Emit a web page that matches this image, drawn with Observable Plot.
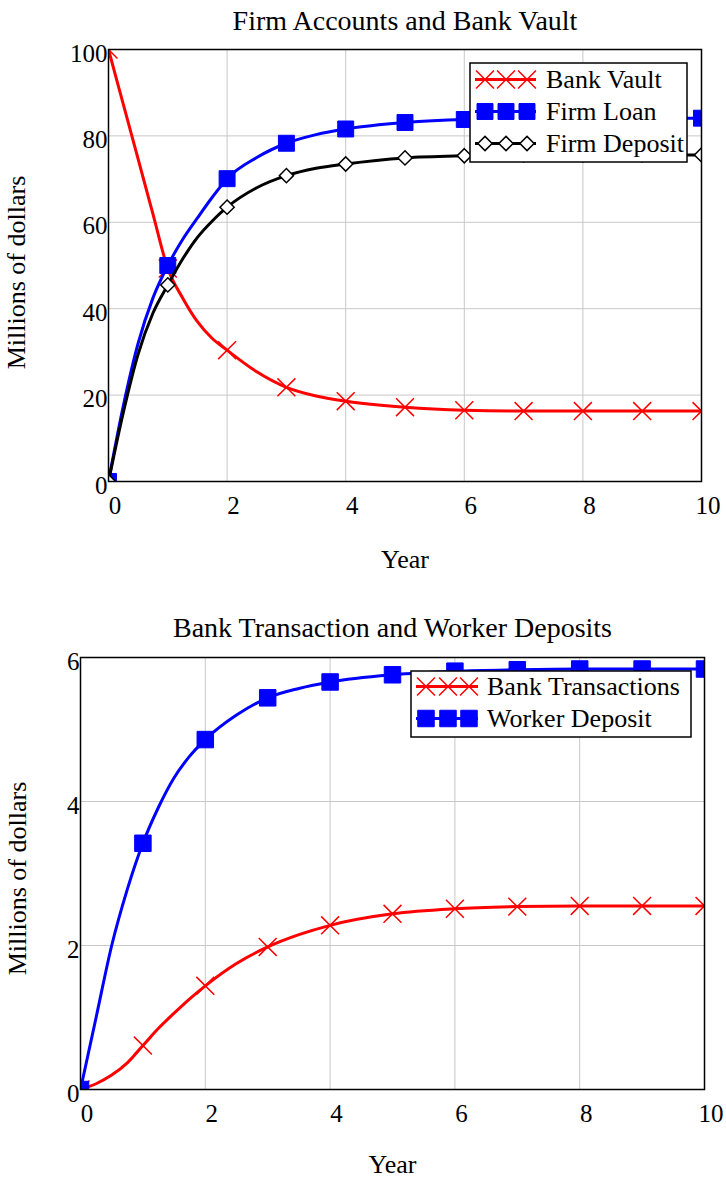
<!DOCTYPE html>
<html><head><meta charset="utf-8">
<script src="https://cdn.jsdelivr.net/npm/d3@7"></script>
<script src="https://cdn.jsdelivr.net/npm/@observablehq/plot@0.6"></script>
<style>
body{margin:0;background:#fff;}
svg{display:block;}
</style>
</head><body><div id="c"></div>
<script>
// ---- data ----
const years = [0,0.25,0.5,0.75,1,1.25,1.5,1.75,2,2.5,3,3.5,4,5,6,7,8,9,10];
const bankVault        = [100,87.3,74.6,61.9,49.3,42.5,37.0,33.1,30.4,25.4,21.8,19.8,18.6,17.2,16.5,16.3,16.3,16.3,16.3];
const firmLoan         = [0,17.5,32.0,42.5,50.0,56.0,61.0,65.8,70.1,75.0,78.3,80.3,81.6,83.1,83.8,84.0,84.1,84.1,84.1];
const firmDeposit      = [0,16.0,29.5,39.0,45.5,51.5,56.5,60.3,63.5,68.0,70.8,72.5,73.5,74.9,75.4,75.6,75.6,75.6,75.6];
const bankTransactions = [0,0.08,0.20,0.37,0.61,0.85,1.06,1.26,1.44,1.75,1.98,2.15,2.28,2.44,2.51,2.54,2.55,2.55,2.55];
const workerDeposit    = [0,1.00,2.00,2.78,3.42,3.92,4.33,4.63,4.86,5.20,5.44,5.57,5.66,5.76,5.81,5.83,5.84,5.84,5.84];

const xTicks = [0,2,4,6,8,10];
const yTicksTop = [0,20,40,60,80,100];
const yTicksBottom = [0,2,4,6];
const topSeries = ["Bank Vault","Firm Loan","Firm Deposit"];
const bottomSeries = ["Bank Transactions","Worker Deposit"];
const topTitle = "Firm Accounts and Bank Vault";
const bottomTitle = "Bank Transaction and Worker Deposits";
const xLabel = "Year";
const yLabel = "Millions of dollars";

// ---- styles ----
const FONT = "Liberation Serif, Times New Roman, serif";
const styles = {
  "Bank Vault":        {color:"#ff0000", symbol:"times",    d3sym:d3.symbolTimes,    r:8.2, fill:"none",    sw:1.5},
  "Firm Loan":         {color:"#0000ff", symbol:"square",   d3sym:d3.symbolSquare,   r:9.0, fill:"#0000ff", sw:1},
  "Firm Deposit":      {color:"#000000", symbol:"diamond2", d3sym:d3.symbolDiamond2, r:6.4, fill:"#ffffff", sw:1.5},
  "Bank Transactions": {color:"#ff0000", symbol:"times",    d3sym:d3.symbolTimes,    r:8.2, fill:"none",    sw:1.5},
  "Worker Deposit":    {color:"#0000ff", symbol:"square",   d3sym:d3.symbolSquare,   r:9.3, fill:"#0000ff", sw:1}
};

function rowsOf(name, vals){ return years.map((y,i)=>({year:y, value:vals[i], series:name})); }

function seriesMarks(name, vals){
  const s = styles[name];
  const rows = rowsOf(name, vals);
  return [
    Plot.line(rows, {x:"year", y:"value", stroke:s.color, strokeWidth:3, curve:"monotone-x", clip:true}),
    Plot.dot(rows.filter(d=>Number.isInteger(d.year)), {x:"year", y:"value", symbol:()=>s.symbol, r:s.r,
      fill:s.fill, stroke:s.color, strokeWidth:s.sw, clip:true})
  ];
}

function drawLegend(svg, names, box){
  const g = d3.select(svg).append("g");
  g.append("rect").attr("x",box.x).attr("y",box.y).attr("width",box.w).attr("height",box.h)
    .attr("fill","#fff").attr("stroke","#000").attr("stroke-width",1.5);
  names.forEach((n,i)=>{
    const s = styles[n];
    const cy = box.row0 + i*box.step;
    g.append("line").attr("x1",box.sx0).attr("x2",box.sx1).attr("y1",cy).attr("y2",cy)
      .attr("stroke",s.color).attr("stroke-width",3);
    box.mx.forEach(mx=>{
      g.append("path").attr("transform",`translate(${mx},${cy})`)
        .attr("d", d3.symbol(s.d3sym, Math.PI*s.r*s.r)())
        .attr("fill", s.fill).attr("stroke", s.color).attr("stroke-width", s.sw);
    });
    g.append("text").attr("x",box.tx).attr("y",cy+8.5).text(n)
      .attr("text-anchor","start")
      .attr("font-family",FONT).attr("font-size",26).attr("fill","#000");
  });
}

function makeChart(cfg){
  const svg = Plot.plot({
    width:726, height:cfg.height,
    marginTop:cfg.mt, marginBottom:cfg.mb, marginLeft:cfg.ml, marginRight:cfg.mr,
    style:{fontFamily:FONT, fontSize:"25px", background:"#fff", color:"#000"},
    x:{domain:[0,10]},
    y:{domain:cfg.ydomain},
    marks:[
      Plot.gridX(xTicks.slice(1,-1), {stroke:"#c8c8c8", strokeOpacity:1, strokeWidth:1}),
      Plot.gridY(cfg.yticks.slice(1,-1), {stroke:"#c8c8c8", strokeOpacity:1, strokeWidth:1}),
      ...cfg.series.flatMap(([n,v])=>seriesMarks(n,v)),
      Plot.frame({stroke:"#000", strokeWidth:1.5}),
      Plot.axisX(xTicks, {tickSize:0, tickPadding:15, dx:6.5, label:null, fontSize:25, tickFormat:d=>String(d)}),
      Plot.axisY(cfg.yticks, {tickSize:0, tickPadding:1, dy:4, label:null, fontSize:25, tickFormat:d=>String(d)}),
      Plot.text([cfg.title], {frameAnchor:"top", dy:cfg.titleDy, lineAnchor:"bottom", fontSize:28, text:d=>d}),
      Plot.text([xLabel], {frameAnchor:"bottom", dy:cfg.xlabDy, lineAnchor:"bottom", fontSize:26, text:d=>d}),
      Plot.text([yLabel], {frameAnchor:"left", textAnchor:"middle", rotate:-90, dx:cfg.ylabDx, dy:cfg.ylabDy, lineAnchor:"bottom", fontSize:26, text:d=>d})
    ]
  });
  drawLegend(svg, cfg.series.map(d=>d[0]), cfg.legend);
  return svg;
}

const c = document.getElementById("c");
c.appendChild(makeChart({
  height:590, mt:49, mb:109, ml:108, mr:25, ydomain:[0,100], yticks:yTicksTop,
  title:topTitle, titleDy:-20, xlabDy:86, ylabDx:-84, ylabDy:7,
  series:[[topSeries[0],bankVault],[topSeries[1],firmLoan],[topSeries[2],firmDeposit]],
  legend:{x:470, y:63, w:217, h:99, row0:79.5, step:32, sx0:475, sx1:536, mx:[485,506,527], tx:546}
}));
c.appendChild(makeChart({
  height:588, mt:67, mb:89, ml:80, mr:22, ydomain:[0,6], yticks:yTicksBottom,
  title:bottomTitle, titleDy:-21, xlabDy:83, ylabDx:-55, ylabDy:5,
  series:[[bottomSeries[0],bankTransactions],[bottomSeries[1],workerDeposit]],
  legend:{x:411, y:81, w:280, h:66, row0:96.5, step:32, sx0:416, sx1:478, mx:[426,448,469], tx:487}
}));
</script>
</body></html>
